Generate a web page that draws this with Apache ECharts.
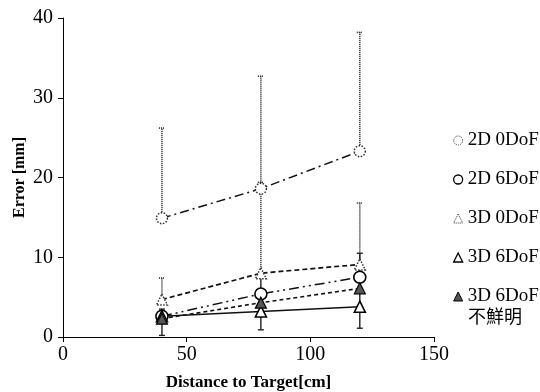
<!DOCTYPE html>
<html>
<head>
<meta charset="utf-8">
<script src="https://cdn.jsdelivr.net/npm/echarts@6/dist/echarts.min.js"></script>
<style>
  html, body { margin: 0; padding: 0; background: #fff; }
  #chart { width: 540px; height: 392px; }
</style>
</head>
<body>
<div id="chart"></div>
<script>
// 距離 (cm)
const distances = [40, 80, 120];
// 各条件の平均誤差 (mm)
const mean2D0 = [14.9, 18.6, 23.3];
const mean2D6 = [2.6, 5.4, 7.5];
const mean3D0 = [4.7, 8.0, 9.1];
const mean3D6 = [2.6, 3.2, 3.8];
const mean3D6Blur = [2.3, 4.3, 6.1];
// エラーバー
const upper2D0 = [26.2, 32.7, 38.2];
const upper3D0 = [7.4, 19.4, 16.8];
const low6 = [0.2, 0.9, 1.1];
const high6 = [3.5, 7.9, 10.5];

const seriesNames = ['2D 0DoF', '2D 6DoF', '3D 0DoF', '3D 6DoF', '3D 6DoF 不鮮明'];

const serif = 'Liberation Serif, Noto Sans CJK JP';

function pairs(ys) {
    return distances.map((x, i) => [x, ys[i]]);
}

function errRows(lo, hi) {
    return distances.map((x, i) => [x, lo[i], hi[i]]);
}

function makeErrRender(dotted, lowCap) {
    return function (params, api) {
        const x = api.value(0);
        const lo = api.coord([x, api.value(1)]);
        const hi = api.coord([x, api.value(2)]);
        const w = 3;
        const style = {
            stroke: '#222',
            lineWidth: dotted ? 1.6 : 1.4,
            lineDash: dotted ? [1, 1] : null
        };
        const children = [
            { type: 'line', shape: { x1: lo[0], y1: lo[1], x2: hi[0], y2: hi[1] }, style: style },
            { type: 'line', shape: { x1: hi[0] - w, y1: hi[1], x2: hi[0] + w, y2: hi[1] }, style: style }
        ];
        if (lowCap) {
            children.push({ type: 'line', shape: { x1: lo[0] - w, y1: lo[1], x2: lo[0] + w, y2: lo[1] }, style: style });
        }
        return { type: 'group', children: children };
    };
}

const chart = echarts.init(document.getElementById('chart'));

const option = {
    animation: false,
    backgroundColor: '#fff',
    grid: { left: 63, right: 106, top: 18, bottom: 55, containLabel: false, outerBoundsMode: 'none' },
    xAxis: {
        type: 'value',
        min: 0, max: 150, interval: 50,
        name: 'Distance to Target[cm]',
        nameLocation: 'middle',
        nameGap: 37,
        nameMoveOverlap: false,
        nameTextStyle: { fontFamily: serif, fontWeight: 'bold', fontSize: 17, color: '#000' },
        axisLine: { lineStyle: { color: '#000', width: 1 } },
        axisTick: { inside: false, length: 5, lineStyle: { color: '#000' } },
        axisLabel: { fontFamily: serif, fontSize: 20, color: '#000', margin: 8 },
        splitLine: { show: false }
    },
    yAxis: {
        type: 'value',
        min: 0, max: 40, interval: 10,
        name: 'Error [mm]',
        nameLocation: 'middle',
        nameGap: 35,
        nameMoveOverlap: false,
        nameRotate: 90,
        nameTextStyle: { fontFamily: serif, fontWeight: 'bold', fontSize: 16, color: '#000' },
        axisLine: { show: true, lineStyle: { color: '#000', width: 1 } },
        axisTick: { show: true, inside: false, length: 5, lineStyle: { color: '#000' } },
        axisLabel: { fontFamily: serif, fontSize: 20, color: '#000', margin: 10 },
        splitLine: { show: false }
    },
    legend: {
        orient: 'vertical',
        left: 448,
        top: 126,
        itemGap: 20,
        itemWidth: 9,
        itemHeight: 9,
        textStyle: { fontFamily: serif, fontSize: 19, color: '#000' },
        formatter: function (name) {
            return name === seriesNames[4] ? '3D 6DoF' : name;
        },
        data: [
            { name: seriesNames[0], icon: 'circle', itemStyle: { color: '#fff', borderColor: '#333', borderWidth: 1, borderType: 'dotted' } },
            { name: seriesNames[1], icon: 'circle', itemStyle: { color: '#fff', borderColor: '#000', borderWidth: 1.3 } },
            { name: seriesNames[2], icon: 'triangle', itemStyle: { color: '#fff', borderColor: '#333', borderWidth: 1, borderType: 'dotted' } },
            { name: seriesNames[3], icon: 'triangle', itemStyle: { color: '#fff', borderColor: '#000', borderWidth: 1.3 } },
            { name: seriesNames[4], icon: 'triangle', itemStyle: { color: '#555', borderColor: '#000', borderWidth: 1 } }
        ]
    },
    graphic: [{
        type: 'text',
        left: 468,
        top: 307,
        style: { text: '不鮮明', font: '18px "Noto Sans CJK JP"', fill: '#000' }
    }],
    series: [
        // エラーバー
        { type: 'custom', z: 1, silent: true, renderItem: makeErrRender(true, false), data: errRows(mean2D0, upper2D0) },
        { type: 'custom', z: 1, silent: true, renderItem: makeErrRender(true, false), data: errRows(mean3D0, upper3D0) },
        { type: 'custom', z: 1, silent: true, renderItem: makeErrRender(false, true), data: errRows(low6, high6) },
        {
            name: seriesNames[0], type: 'line', z: 3, data: pairs(mean2D0),
            symbol: 'circle', symbolSize: 11,
            lineStyle: { color: '#111', width: 1.5, type: [9, 4, 2, 4] },
            itemStyle: { color: '#fff', borderColor: '#333', borderWidth: 1.5, borderType: 'dotted' }
        },
        {
            name: seriesNames[1], type: 'line', z: 3, data: pairs(mean2D6),
            symbol: 'circle', symbolSize: 12,
            lineStyle: { color: '#111', width: 1.5, type: [10, 4, 2, 4, 2, 4] },
            itemStyle: { color: '#fff', borderColor: '#000', borderWidth: 1.6 }
        },
        {
            name: seriesNames[2], type: 'line', z: 3, data: pairs(mean3D0),
            symbol: 'triangle', symbolSize: 11,
            lineStyle: { color: '#111', width: 1.7, type: [5, 3] },
            itemStyle: { color: '#fff', borderColor: '#333', borderWidth: 1.5, borderType: 'dotted' }
        },
        {
            name: seriesNames[3], type: 'line', z: 3, data: pairs(mean3D6),
            symbol: 'triangle', symbolSize: 11,
            lineStyle: { color: '#111', width: 1.4, type: 'solid' },
            itemStyle: { color: '#fff', borderColor: '#000', borderWidth: 1.6 }
        },
        {
            name: seriesNames[4], type: 'line', z: 3, data: pairs(mean3D6Blur),
            symbol: 'triangle', symbolSize: 11,
            lineStyle: { color: '#111', width: 1.6, type: [4, 3] },
            itemStyle: { color: '#555', borderColor: '#000', borderWidth: 1.2 }
        }
    ]
};

chart.setOption(option);
</script>
</body>
</html>
